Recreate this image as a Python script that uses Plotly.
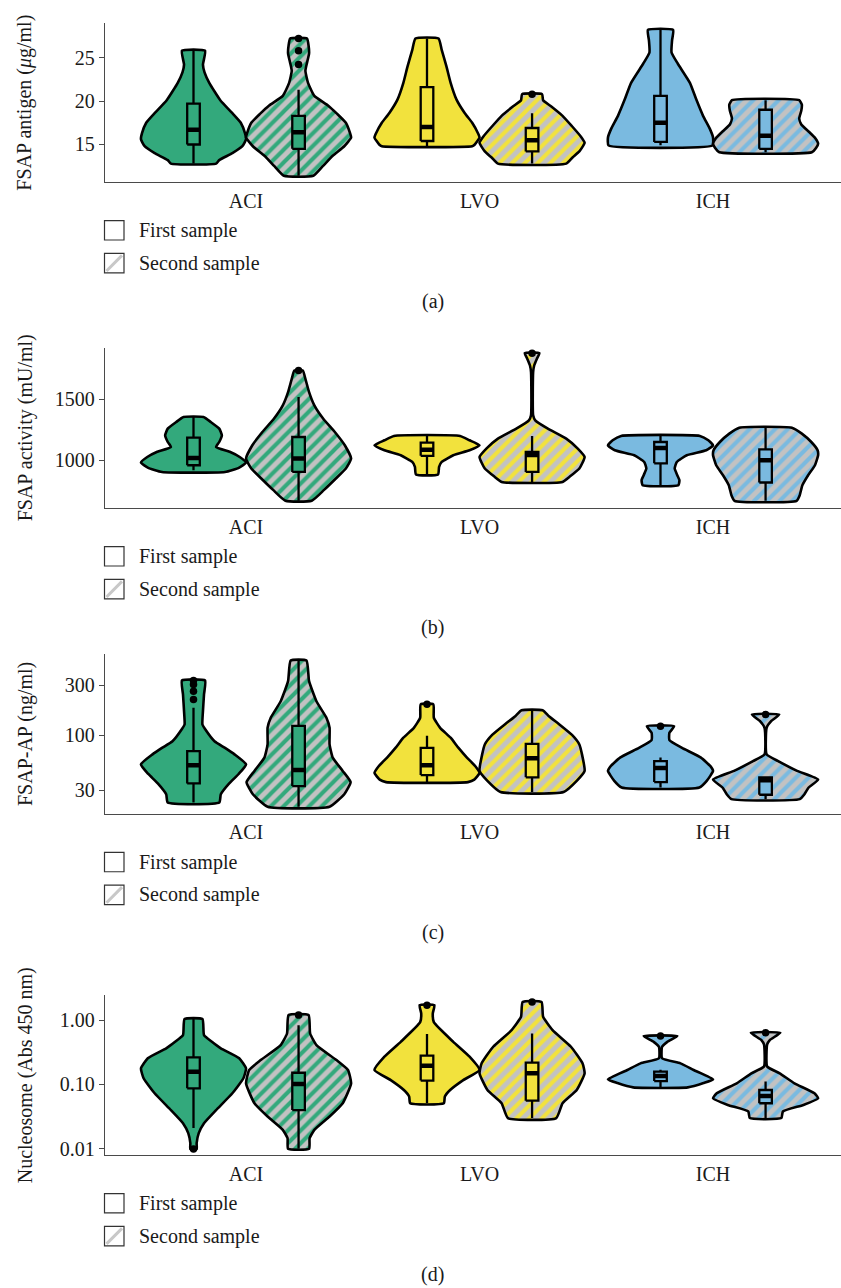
import plotly.graph_objects as go

W, H = 841, 1288

GROUPS = ["ACI", "LVO", "ICH"]
COLORS = ["#33A97C", "#F2E23D", "#7ABAE0"]
HATCH_BG = "#C2C2C2"
SAMPLES = ["First sample", "Second sample"]

# Order of every list below: ACI first, ACI second, LVO first, LVO second, ICH first, ICH second.
# Violin outlines are (value, relative half-width) pairs, top to bottom.

# (a) FSAP antigen
ANTIGEN_SHAPE = [
    [(25.8, 0.22), (24.2, 0.18), (23.3, 0.21), (22.1, 0.30), (20.1, 0.51), (18.6, 0.74), (17.5, 0.90),
     (16.3, 0.98), (15.6, 1.0), (14.8, 0.93), (14.0, 0.74), (13.2, 0.49), (12.8, 0.43)],
    [(27.2, 0.16), (26.4, 0.19), (25.5, 0.20), (24.4, 0.16), (23.5, 0.13), (22.1, 0.18), (20.6, 0.30),
     (19.5, 0.56), (18.5, 0.74), (17.5, 0.90), (16.3, 0.98), (15.8, 1.0), (14.8, 0.87), (13.7, 0.65),
     (12.5, 0.46), (11.4, 0.28)],
    [(27.2, 0.22), (25.9, 0.28), (24.0, 0.37), (22.1, 0.45), (20.2, 0.56), (18.6, 0.72), (17.5, 0.86),
     (16.3, 0.97), (15.8, 1.0), (15.0, 0.91), (14.8, 0.86)],
    [(20.8, 0.19), (20.1, 0.21), (19.4, 0.36), (18.3, 0.58), (17.1, 0.76), (15.9, 0.93), (15.2, 1.0),
     (14.2, 0.90), (13.5, 0.77), (12.8, 0.65)],
    [(28.2, 0.24), (27.0, 0.22), (25.6, 0.21), (24.3, 0.33), (22.1, 0.56), (20.2, 0.68), (18.3, 0.81),
     (16.8, 0.94), (15.8, 1.0), (14.9, 0.99)],
    [(20.1, 0.64), (19.6, 0.69), (18.9, 0.68), (18.0, 0.64), (17.3, 0.68), (16.5, 0.82), (15.7, 0.95),
     (15.1, 1.0), (14.6, 0.96), (14.1, 0.88)],
]
ANTIGEN_Q1 = [15.0, 14.5, 15.4, 14.2, 15.3, 14.5]
ANTIGEN_MED = [16.7, 16.4, 17.0, 15.5, 17.5, 16.0]
ANTIGEN_Q3 = [19.7, 18.3, 21.6, 16.9, 20.6, 19.0]
ANTIGEN_LO = [12.8, 11.4, 14.8, 12.8, 14.9, 14.1]
ANTIGEN_HI = [25.8, 21.3, 27.2, 18.6, 28.2, 20.1]
ANTIGEN_OUT = [[], [27.2, 25.8, 24.2], [], [20.8], [], []]

# (b) FSAP activity
ACTIVITY_SHAPE = [
    [(1355, 0.19), (1314, 0.33), (1260, 0.49), (1205, 0.54), (1150, 0.49), (1109, 0.43), (1068, 0.70),
     (1027, 0.88), (981, 1.0), (940, 0.87), (904, 0.60)],
    [(1738, 0.08), (1669, 0.13), (1560, 0.20), (1451, 0.30), (1341, 0.47), (1232, 0.69), (1123, 0.88),
     (1014, 1.0), (932, 0.90), (850, 0.71), (754, 0.48), (667, 0.25)],
    [(1200, 0.63), (1164, 0.81), (1123, 1.0), (1082, 0.81), (1041, 0.50), (986, 0.28), (945, 0.23),
     (883, 0.21)],
    [(1880, 0.14), (1833, 0.09), (1779, 0.04), (1724, 0.02), (1369, 0.02), (1328, 0.06), (1260, 0.30),
     (1178, 0.65), (1096, 0.87), (1027, 1.0), (932, 0.90), (863, 0.71), (822, 0.58)],
    [(1200, 0.75), (1164, 0.91), (1123, 1.0), (1082, 0.87), (1041, 0.50), (986, 0.31), (932, 0.27),
     (877, 0.32), (836, 0.36), (795, 0.34)],
    [(1268, 0.50), (1219, 0.69), (1150, 0.87), (1082, 0.99), (1041, 1.0), (959, 0.94), (877, 0.81),
     (795, 0.70), (713, 0.65), (667, 0.59)],
]
ACTIVITY_Q1 = [959, 904, 1036, 904, 975, 817]
ACTIVITY_MED = [1019, 1014, 1087, 1044, 1100, 1000]
ACTIVITY_Q3 = [1186, 1191, 1145, 1068, 1150, 1090]
ACTIVITY_LO = [918, 667, 883, 822, 795, 667]
ACTIVITY_HI = [1355, 1519, 1200, 1200, 1200, 1268]
ACTIVITY_OUT = [[], [1738], [], [1880], [], []]

# (c) FSAP-AP
AP_SHAPE = [
    [(332, 0.22), (245, 0.20), (170, 0.18), (127, 0.17), (115, 0.22), (88, 0.40), (76, 0.60), (66, 0.78),
     (53, 1.0), (43, 0.86), (35, 0.68), (27.6, 0.52), (23, 0.49)],
    [(513, 0.15), (327, 0.20), (211, 0.34), (147, 0.53), (118, 0.59), (82, 0.59), (61.5, 0.65), (46, 0.84),
     (36, 0.99), (27.6, 0.87), (21, 0.59)],
    [(197, 0.12), (147, 0.13), (118, 0.25), (95, 0.45), (76, 0.60), (61.5, 0.76), (51, 0.92), (44, 1.0),
     (38, 0.90), (36, 0.78)],
    [(173, 0.20), (152, 0.32), (127, 0.52), (101, 0.76), (82, 0.90), (66, 0.95), (46, 1.0), (37, 0.85),
     (29, 0.60)],
    [(122, 0.26), (106, 0.17), (90, 0.17), (76, 0.41), (61.5, 0.77), (51, 0.95), (46, 1.0), (37, 0.88),
     (32, 0.74)],
    [(158, 0.26), (137, 0.11), (118, 0.02), (66, 0.02), (57, 0.24), (46, 0.60), (38, 1.0), (32, 0.82),
     (27.6, 0.74), (24.8, 0.65)],
]
AP_Q1 = [35, 33, 42, 40, 36, 27.3]
AP_MED = [52, 47, 52, 60.5, 49, 37.5]
AP_Q3 = [71, 123, 76, 83, 57, 40]
AP_LO = [23, 21, 36, 29, 32, 24.8]
AP_HI = [183, 513, 99, 173, 61.5, 40]
AP_OUT = [[332, 304, 263, 219], [], [197], [], [122], [158]]

# (d) Nucleosome
NUC_SHAPE = [
    [(1.04, 0.17), (0.585, 0.20), (0.46, 0.35), (0.364, 0.52), (0.255, 0.87), (0.178, 1.0), (0.125, 0.95),
     (0.073, 0.74), (0.040, 0.43), (0.025, 0.20), (0.0175, 0.10), (0.0122, 0.06), (0.0099, 0.06)],
    [(1.2, 0.19), (0.62, 0.22), (0.41, 0.34), (0.24, 0.72), (0.168, 0.94), (0.104, 1.0), (0.051, 0.84),
     (0.0317, 0.59), (0.0197, 0.30), (0.0146, 0.21), (0.010, 0.20)],
    [(1.71, 0.14), (1.27, 0.11), (0.93, 0.13), (0.46, 0.50), (0.27, 0.81), (0.168, 1.0), (0.117, 0.69),
     (0.082, 0.44), (0.065, 0.34), (0.051, 0.32)],
    [(1.92, 0.18), (1.13, 0.21), (0.70, 0.39), (0.386, 0.74), (0.213, 0.96), (0.149, 1.0), (0.082, 0.85),
     (0.051, 0.58), (0.030, 0.46)],
    [(0.565, 0.32), (0.46, 0.13), (0.386, 0.03), (0.255, 0.03), (0.213, 0.38), (0.168, 0.63), (0.12, 1.0),
     (0.105, 0.82), (0.090, 0.52)],
    [(0.637, 0.28), (0.49, 0.08), (0.42, 0.03), (0.19, 0.03), (0.149, 0.27), (0.104, 0.55), (0.073, 0.93),
     (0.061, 1.0), (0.048, 0.72), (0.038, 0.33), (0.030, 0.30)],
]
NUC_Q1 = [0.087, 0.040, 0.115, 0.056, 0.113, 0.051]
NUC_MED = [0.158, 0.102, 0.196, 0.149, 0.135, 0.066]
NUC_Q3 = [0.264, 0.152, 0.28, 0.218, 0.158, 0.082]
NUC_LO = [0.021, 0.010, 0.051, 0.030, 0.090, 0.030]
NUC_HI = [1.04, 0.836, 0.61, 0.62, 0.17, 0.111]
NUC_OUT = [[0.0099], [1.2], [1.71], [1.92], [0.565], [0.637]]

Y_TITLES = ["FSAP antigen (<i>μ</i>g/ml)", "FSAP activity (mU/ml)", "FSAP-AP (ng/ml)",
            "Nucleosome (Abs 450 nm)"]
Y_TICKVALS = [[15, 20, 25], [1000, 1500], [30, 100, 300], [0.01, 0.1, 1]]
Y_TICKTEXT = [["15", "20", "25"], ["1000", "1500"], ["30", "100", "300"], ["0.01", "0.10", "1.00"]]
PANEL_LABELS = ["(a)", "(b)", "(c)", "(d)"]

panels = [
    (ANTIGEN_SHAPE, ANTIGEN_Q1, ANTIGEN_MED, ANTIGEN_Q3, ANTIGEN_LO, ANTIGEN_HI, ANTIGEN_OUT),
    (ACTIVITY_SHAPE, ACTIVITY_Q1, ACTIVITY_MED, ACTIVITY_Q3, ACTIVITY_LO, ACTIVITY_HI, ACTIVITY_OUT),
    (AP_SHAPE, AP_Q1, AP_MED, AP_Q3, AP_LO, AP_HI, AP_OUT),
    (NUC_SHAPE, NUC_Q1, NUC_MED, NUC_Q3, NUC_LO, NUC_HI, NUC_OUT),
]

# layout geometry (pixels): plot-area top/bottom per panel, axis ranges and types
AREA_PX = [(23, 183), (349.3, 510), (656, 816.7), (998.3, 1159)]
Y_RANGES = [[10.63, 29.0], [604, 1921], [1.252, 2.773], [-2.103, 0.388]]
Y_TYPES = ["linear", "linear", "log", "log"]
X_LEFT_PX = 105
X_RANGE = [0.396, 3.548]

DODGE = 0.225
HALF_W = 0.225
BOX_W = 0.054
FONT = "Liberation Serif"
FONT_SIZE = 20
AXIS_COLOR = "#4a4a4a"
TEXT_COLOR = "#1a1a1a"


def py(y):
    return 1 - y / H


def px(x):
    return x / W


fig = go.Figure()
layout_axes = {}
shapes = []
annotations = []

for p, (shape, q1, med, q3, lo, hi, out) in enumerate(panels):
    sfx = "" if p == 0 else str(p + 1)
    xa, ya = "x" + sfx, "y" + sfx
    common = dict(xaxis=xa, yaxis=ya, showlegend=False, hoverinfo="skip")
    for k in range(6):
        g, s = divmod(k, 2)
        c = (g + 1) + (-DODGE if s == 0 else DODGE)
        color = COLORS[g]

        # violin outline
        prof = shape[k]
        xs = [c + w * HALF_W for v, w in prof] + [c - w * HALF_W for v, w in reversed(prof)]
        ys = [v for v, w in prof] + [v for v, w in reversed(prof)]
        xs.append(xs[0])
        ys.append(ys[0])
        vkw = dict(x=xs, y=ys, mode="lines", fill="toself",
                   line=dict(color="black", width=2.6, shape="spline", smoothing=0.45), **common)
        if s == 0:
            vkw["fillcolor"] = color
        else:
            vkw["fillpattern"] = dict(shape="/", bgcolor=HATCH_BG, fgcolor=color,
                                      size=9, solidity=0.45, fillmode="replace")
        fig.add_trace(go.Scatter(**vkw))

        # whiskers
        fig.add_trace(go.Scatter(x=[c, c, None, c, c], y=[hi[k], q3[k], None, q1[k], lo[k]],
                                 mode="lines", line=dict(color="black", width=2.3), **common))
        # interquartile box
        x0, x1 = c - BOX_W / 2, c + BOX_W / 2
        fig.add_trace(go.Scatter(x=[x0, x1, x1, x0, x0], y=[q1[k], q1[k], q3[k], q3[k], q1[k]],
                                 mode="lines", fill="toself", fillcolor=color,
                                 line=dict(color="black", width=2.3), **common))
        # median
        fig.add_trace(go.Scatter(x=[x0, x1], y=[med[k], med[k]], mode="lines",
                                 line=dict(color="black", width=4.5), **common))
        # outliers
        if out[k]:
            fig.add_trace(go.Scatter(x=[c] * len(out[k]), y=out[k], mode="markers",
                                     marker=dict(color="black", size=7.5), **common))

    top, bot = AREA_PX[p]
    layout_axes["xaxis" + sfx] = dict(
        domain=[px(X_LEFT_PX), 1.0], range=X_RANGE, anchor=ya,
        tickvals=[1, 2, 3], ticktext=GROUPS, ticks="",
        showline=True, linecolor=AXIS_COLOR, linewidth=1.4,
        showgrid=False, zeroline=False,
        tickfont=dict(family=FONT, size=FONT_SIZE, color=TEXT_COLOR))
    layout_axes["yaxis" + sfx] = dict(
        domain=[py(bot), py(top)], range=Y_RANGES[p], type=Y_TYPES[p], anchor=xa,
        tickvals=Y_TICKVALS[p], ticktext=Y_TICKTEXT[p],
        ticks="outside", ticklen=5, tickwidth=1.4, tickcolor=AXIS_COLOR,
        showline=True, linecolor=AXIS_COLOR, linewidth=1.4,
        showgrid=False, zeroline=False,
        tickfont=dict(family=FONT, size=FONT_SIZE, color=TEXT_COLOR))

    annotations.append(dict(x=px(25), y=py((top + bot) / 2), xref="paper", yref="paper",
                            text=Y_TITLES[p], textangle=-90, showarrow=False,
                            xanchor="center", yanchor="middle",
                            font=dict(family=FONT, size=FONT_SIZE, color=TEXT_COLOR)))

    # legend keys below the axis
    for j, label in enumerate(SAMPLES):
        cy = bot + (48 if j == 0 else 81)
        shapes.append(dict(type="rect", xref="paper", yref="paper",
                           x0=px(104.5), x1=px(124), y0=py(cy + 9.75), y1=py(cy - 9.75),
                           line=dict(color="#333333", width=1.2), fillcolor="white"))
        if j == 1:
            shapes.append(dict(type="line", xref="paper", yref="paper",
                               x0=px(106.5), y0=py(cy + 7.8), x1=px(122), y1=py(cy - 7.8),
                               line=dict(color="#C8C8C8", width=3)))
        annotations.append(dict(x=px(137), y=py(cy), xref="paper", yref="paper", text=label,
                                showarrow=False, xanchor="left", yanchor="middle",
                                font=dict(family=FONT, size=FONT_SIZE, color=TEXT_COLOR)))

    annotations.append(dict(x=px(433), y=py(bot + 119), xref="paper", yref="paper",
                            text=PANEL_LABELS[p], showarrow=False, xanchor="center", yanchor="middle",
                            font=dict(family=FONT, size=FONT_SIZE, color=TEXT_COLOR)))

fig.update_layout(
    width=W, height=H,
    margin=dict(l=0, r=0, t=0, b=0),
    paper_bgcolor="white", plot_bgcolor="white",
    showlegend=False,
    shapes=shapes, annotations=annotations,
    **layout_axes,
)

fig.write_html("out.html")
